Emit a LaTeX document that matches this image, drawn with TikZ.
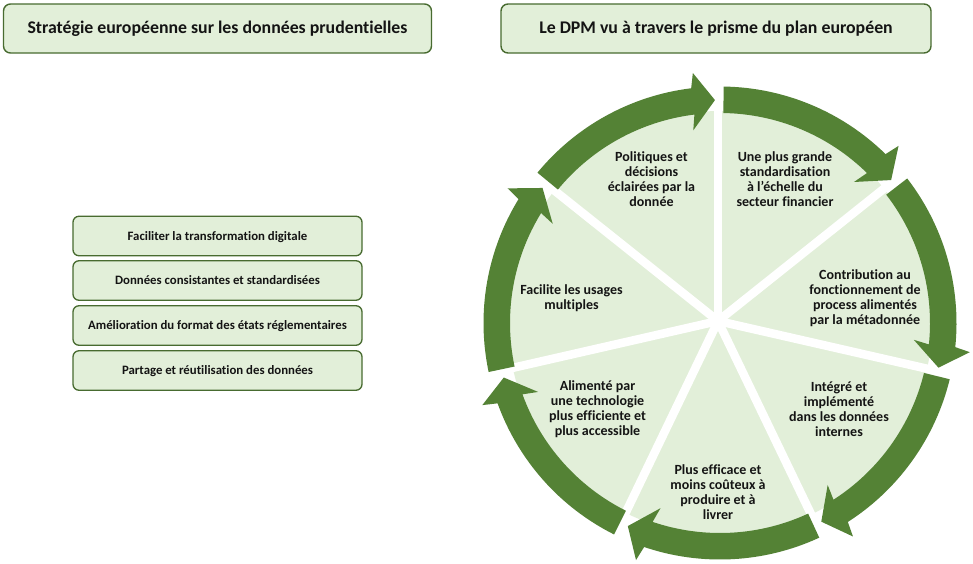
\documentclass[tikz,border=0pt]{standalone}
\usepackage{fontspec}
\setmainfont{Carlito}[Ligatures=CommonOff]
\definecolor{darkgreen}{HTML}{548235}
\definecolor{lightgreen}{HTML}{E2EFD9}
\definecolor{edgegreen}{HTML}{486B30}
\tikzset{
  titlebox/.style={draw=edgegreen,line width=1.4pt,fill=lightgreen,rounded corners=7pt,minimum height=49pt,inner sep=0pt,
    font=\fontsize{17.8}{20}\selectfont\bfseries,text=black!92},
  itembox/.style={draw=edgegreen,line width=1.3pt,fill=lightgreen,rounded corners=6pt,minimum width=289pt,minimum height=39.5pt,inner sep=0pt,
    font=\fontsize{12.8}{14}\selectfont\bfseries,text=black!92},
  wedgetext/.style={align=center,inner sep=0pt,font=\fontsize{14}{15.1}\selectfont\bfseries,text=black!92},
  gapline/.style={white,line width=8.5pt},
  ringarrow/.style={fill=darkgreen,draw=none}
}
\newcommand{\itemtext}[1]{\raisebox{-4.3pt}[0pt][0pt]{#1}}
\begin{document}
\begin{tikzpicture}[x=1pt,y=1pt]
\useasboundingbox (0,0) rectangle (973,-563);
\fill[white] (0,0) rectangle (973,-563);
% titles
\node[titlebox,minimum width=428pt] (t1) at (217.5,-28.5) {Stratégie européenne sur les données prudentielles};
\node[titlebox,minimum width=430pt] (t2) at (716,-28.5) {Le DPM vu à travers le prisme du plan européen};
% items
\node[itembox] (i1) at (217.5,-236) {\itemtext{Faciliter la transformation digitale}};
\node[itembox] (i2) at (217.5,-280.5) {\itemtext{Données consistantes et standardisées}};
\node[itembox] (i3) at (217.5,-325.5) {\itemtext{Amélioration du format des états réglementaires}};
\node[itembox] (i4) at (217.5,-370.5) {\itemtext{Partage et réutilisation des données}};
% wheel
\fill[lightgreen] (720,-323) circle[radius=212pt];
\coordinate (hub) at (718,-321);
\foreach \k in {0,...,6}{
  \pgfmathsetmacro{\ang}{90-\k*360/7}
  \draw[gapline] (hub) -- ++(\ang:250pt);
}
\fill[white] (hub) circle[radius=6pt];
\begin{scope}[shift={(720,-323)}]
\foreach \k in {0,...,6}{
  \pgfmathsetmacro{\sa}{90-\k*360/7-0.9}
  \pgfmathsetmacro{\ea}{90-(\k+1)*360/7+7.0}
  \pgfmathsetmacro{\ba}{90-(\k+1)*360/7+6.2}
  \pgfmathsetmacro{\ca}{90-(\k+1)*360/7+7.9}
  \pgfmathsetmacro{\ta}{90-(\k+1)*360/7+1.3}
  \fill[ringarrow] (\sa:236.5pt) arc[start angle=\sa,end angle=\ea,radius=236.5pt]
    -- (\ba:251.5pt) -- (\ta:223pt) -- (\ca:194.5pt) -- (\ea:210pt)
    arc[start angle=\ea,end angle=\sa,radius=210pt] -- cycle;
}
\end{scope}
% wedge labels
\node[wedgetext] (w1) at (785,-179) {Une plus grande\\standardisation\\à l'échelle du\\secteur financier};
\node[wedgetext] (w2) at (865,-298) {Contribution au\\fonctionnement de\\process alimentés\\par la métadonnée};
\node[wedgetext] (w3) at (839,-409.5) {Intégré et\\implémenté\\dans les données\\internes};
\node[wedgetext] (w4) at (718,-492) {Plus efficace et\\moins coûteux à\\produire et à\\livrer};
\node[wedgetext] (w5) at (597.5,-409.5) {Alimenté par\\une technologie\\plus efficiente et\\plus accessible};
\node[wedgetext] (w6) at (571.5,-298) {Facilite les usages\\multiples};
\node[wedgetext] (w7) at (651.5,-179) {Politiques et\\décisions\\éclairées par la\\donnée};
\end{tikzpicture}
\end{document}
